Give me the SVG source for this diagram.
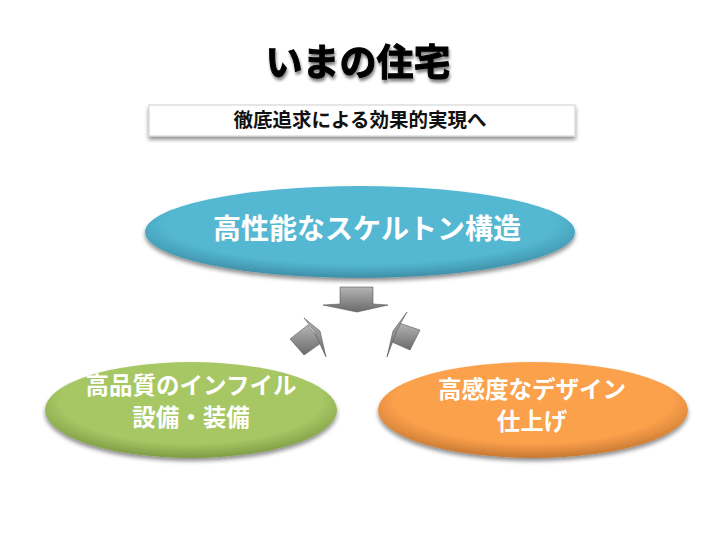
<svg xmlns="http://www.w3.org/2000/svg" width="720" height="540" viewBox="0 0 720 540">
<style>
.t{font-family:"Noto Sans CJK JP","Liberation Sans",sans-serif;font-weight:bold;text-anchor:middle}
.w{fill:#ffffff}
</style>
<defs>
<filter id="sh" x="-10%" y="-10%" width="120%" height="130%">
<feGaussianBlur in="SourceAlpha" stdDeviation="2"/>
<feOffset dx="0" dy="3" result="b"/>
<feComponentTransfer><feFuncA type="linear" slope="0.45"/></feComponentTransfer>
<feMerge><feMergeNode/><feMergeNode in="SourceGraphic"/></feMerge>
</filter>
<filter id="tsh" x="-10%" y="-10%" width="120%" height="140%">
<feGaussianBlur in="SourceAlpha" stdDeviation="1.5"/>
<feOffset dx="1" dy="3"/>
<feComponentTransfer><feFuncA type="linear" slope="0.5"/></feComponentTransfer>
<feMerge><feMergeNode/><feMergeNode in="SourceGraphic"/></feMerge>
</filter>
<radialGradient id="gb" cx="50%" cy="40%" r="60%">
<stop offset="0.75" stop-color="#54B8D3"/>
<stop offset="1" stop-color="#3E8FA6"/>
</radialGradient>
<radialGradient id="gg" cx="50%" cy="40%" r="60%">
<stop offset="0.75" stop-color="#A6C764"/>
<stop offset="1" stop-color="#7F9C45"/>
</radialGradient>
<radialGradient id="go" cx="50%" cy="40%" r="60%">
<stop offset="0.75" stop-color="#FBA04C"/>
<stop offset="1" stop-color="#C77832"/>
</radialGradient>
<linearGradient id="ga" x1="0" y1="0" x2="0" y2="1">
<stop offset="0" stop-color="#B4B4B4"/>
<stop offset="1" stop-color="#6A6A6A"/>
</linearGradient>
</defs>
<rect width="720" height="540" fill="#ffffff"/>

<g id="title">
<text class="t" x="358" y="76" font-size="37" font-weight="900" fill="#000000" stroke="#000000" stroke-width="1" filter="url(#tsh)">いまの住宅</text>
</g>

<g id="subtitle">
<rect x="149" y="105" width="426" height="31" fill="#ffffff" stroke="#d0d0d0" stroke-width="1" filter="url(#sh)"/>
<text class="t" x="360" y="127" font-size="19.5" fill="#111111">徹底追求による効果的実現へ</text>
</g>

<g id="node-top">
<ellipse cx="360" cy="232" rx="215" ry="46" fill="url(#gb)" filter="url(#sh)"/>
<text class="t w" x="367" y="239" font-size="28">高性能なスケルトン構造</text>
</g>

<g id="node-left">
<ellipse cx="191" cy="410" rx="146" ry="48" fill="url(#gg)" filter="url(#sh)"/>
<text class="t w" x="191" y="394" font-size="23.5">高品質のインフイル</text>
<text class="t w" x="191" y="426" font-size="23.5">設備・装備</text>
</g>

<g id="node-right">
<ellipse cx="533" cy="410" rx="155" ry="48" fill="url(#go)" filter="url(#sh)"/>
<text class="t w" x="532" y="398" font-size="23.5">高感度なデザイン</text>
<text class="t w" x="532" y="430" font-size="23.5">仕上げ</text>
</g>

<g id="connectors" fill="url(#ga)" stroke="#5a5a5a" stroke-width="0.6">
<path d="M340,287 L373,287 L373,304 L388,305 L357,312 L323,305 L340,304 Z"/>
<path d="M290,339 L308,325 L321,343 L304,355 Z"/>
<path d="M304,318 L320,331 L326,357 L314,331 Z"/>
<path d="M399,323 L420,330 L410,350 L392,342 Z"/>
<path d="M407,312 L397,330 L387,357 L393,331 Z"/>
</g>
</svg>
